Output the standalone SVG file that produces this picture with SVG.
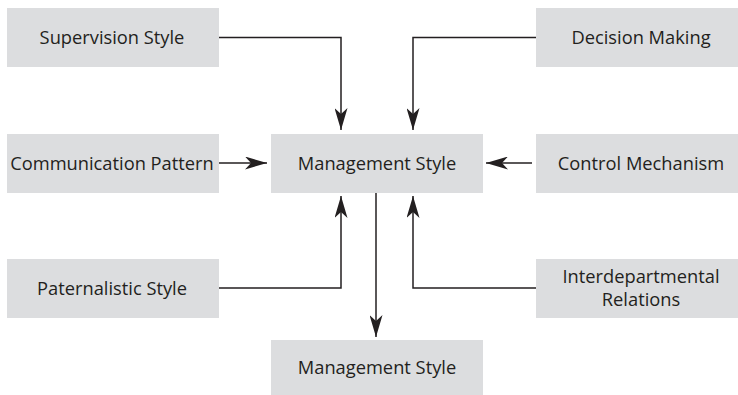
<svg xmlns="http://www.w3.org/2000/svg" width="738" height="395" viewBox="0 0 738 395">
  <style>
    .box { fill: #dcdddf; }
    .lbl { font-family: "Open Sans", "Noto Sans", "Liberation Sans", sans-serif; font-size: 18.3px; fill: #231f20; text-anchor: middle; }
    .wire { fill: none; stroke: #231f20; stroke-width: 1.5; }
  </style>
  <defs>
    <marker id="head" viewBox="0 0 22 13" refX="22" refY="6.5" markerWidth="22" markerHeight="13" markerUnits="userSpaceOnUse" orient="auto">
      <path d="M0,0 L22,6.5 L0,13 L6,6.5 Z" fill="#231f20"/>
    </marker>
  </defs>

  <rect width="738" height="395" fill="#ffffff"/>

  <g id="supervision-style">
    <rect class="box" x="7" y="8" width="212" height="59"/>
    <text class="lbl" x="112" y="44">Supervision Style</text>
  </g>
  <g id="decision-making">
    <rect class="box" x="536" y="8" width="210" height="59"/>
    <text class="lbl" x="641" y="44">Decision Making</text>
  </g>
  <g id="communication-pattern">
    <rect class="box" x="7" y="134" width="212" height="59"/>
    <text class="lbl" x="112" y="170">Communication Pattern</text>
  </g>
  <g id="management-style">
    <rect class="box" x="271" y="134" width="212" height="59"/>
    <text class="lbl" x="377" y="170">Management Style</text>
  </g>
  <g id="control-mechanism">
    <rect class="box" x="536" y="134" width="210" height="59"/>
    <text class="lbl" x="641" y="170">Control Mechanism</text>
  </g>
  <g id="paternalistic-style">
    <rect class="box" x="7" y="259" width="212" height="59"/>
    <text class="lbl" x="112" y="295">Paternalistic Style</text>
  </g>
  <g id="interdepartmental-relations">
    <rect class="box" x="536" y="259" width="210" height="59"/>
    <text class="lbl" x="641" y="283">Interdepartmental</text>
    <text class="lbl" x="641" y="306">Relations</text>
  </g>
  <g id="management-style-out">
    <rect class="box" x="271" y="340" width="212" height="55"/>
    <text class="lbl" x="377" y="374">Management Style</text>
  </g>

  <g id="connectors">
    <path class="wire" d="M219,37.5 H341 V130" marker-end="url(#head)"/>
    <path class="wire" d="M536,37.5 H413 V130" marker-end="url(#head)"/>
    <path class="wire" d="M219,163 H267" marker-end="url(#head)"/>
    <path class="wire" d="M532,163 H486" marker-end="url(#head)"/>
    <path class="wire" d="M219,288 H341 V196" marker-end="url(#head)"/>
    <path class="wire" d="M536,288 H413 V196" marker-end="url(#head)"/>
    <path class="wire" d="M376,193 V337" marker-end="url(#head)"/>
  </g>
</svg>
